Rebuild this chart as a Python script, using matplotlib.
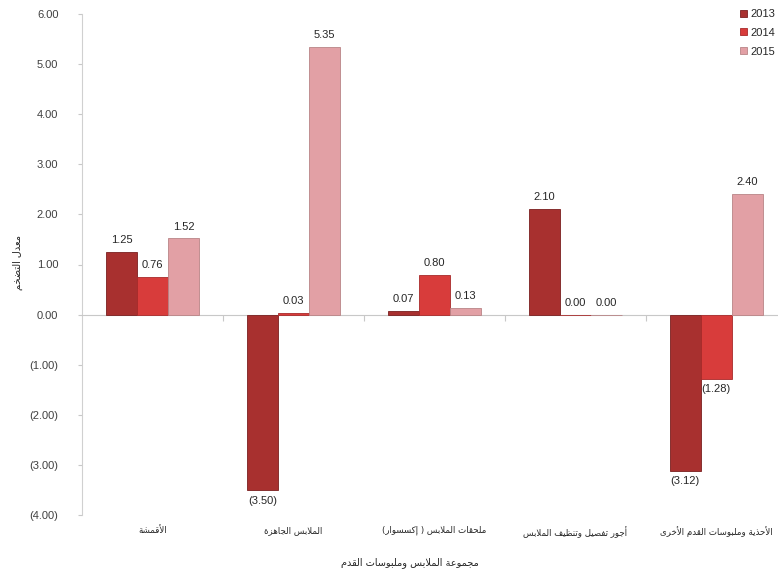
import numpy as np
import matplotlib
matplotlib.use('Agg')
from matplotlib import pyplot as plt
import matplotlib.transforms as mtransforms

plt.rcParams['font.family'] = ['Liberation Sans', 'DejaVu Sans']

# the data
categories = ['الأقمشة', 'الملابس الجاهزة', 'ملحقات الملابس ( إكسسوار)',
              'أجور تفصيل وتنظيف الملابس', 'الأحذية وملبوسات القدم الأخرى']
years = ['2013', '2014', '2015']
v2013 = [1.25, -3.50, 0.07, 2.10, -3.12]
v2014 = [0.76, 0.03, 0.80, 0.00, -1.28]
v2015 = [1.52, 5.35, 0.13, 0.00, 2.40]
y_ticks = [-4, -3, -2, -1, 0, 1, 2, 3, 4, 5, 6]
x_title = 'مجموعة الملابس وملبوسات القدم'
y_title = 'معدل التضخم'

# matplotlib has no arabic shaping, so do it by hand with presentation forms
FORMS = {
    'ء': (0xFE80, 1), 'آ': (0xFE81, 2), 'أ': (0xFE83, 2), 'ؤ': (0xFE85, 2),
    'إ': (0xFE87, 2), 'ئ': (0xFE89, 4), 'ا': (0xFE8D, 2), 'ب': (0xFE8F, 4),
    'ة': (0xFE93, 2), 'ت': (0xFE95, 4), 'ث': (0xFE99, 4), 'ج': (0xFE9D, 4),
    'ح': (0xFEA1, 4), 'خ': (0xFEA5, 4), 'د': (0xFEA9, 2), 'ذ': (0xFEAB, 2),
    'ر': (0xFEAD, 2), 'ز': (0xFEAF, 2), 'س': (0xFEB1, 4), 'ش': (0xFEB5, 4),
    'ص': (0xFEB9, 4), 'ض': (0xFEBD, 4), 'ط': (0xFEC1, 4), 'ظ': (0xFEC5, 4),
    'ع': (0xFEC9, 4), 'غ': (0xFECD, 4), 'ف': (0xFED1, 4), 'ق': (0xFED5, 4),
    'ك': (0xFED9, 4), 'ل': (0xFEDD, 4), 'م': (0xFEE1, 4), 'ن': (0xFEE5, 4),
    'ه': (0xFEE9, 4), 'و': (0xFEED, 2), 'ى': (0xFEEF, 2), 'ي': (0xFEF1, 4),
}
LAM_ALEF = {'آ': 0xFEF5, 'أ': 0xFEF7, 'إ': 0xFEF9, 'ا': 0xFEFB}


def shape(text):
    # group lam+alef into one unit first
    units = []
    i = 0
    while i < len(text):
        c = text[i]
        if c == 'ل' and i + 1 < len(text) and text[i + 1] in LAM_ALEF:
            units.append(('LA', text[i + 1]))
            i += 2
        else:
            units.append(('C', c))
            i += 1

    def joins_left(u):  # can connect to the following letter
        kind, c = u
        return kind == 'C' and c in FORMS and FORMS[c][1] == 4

    def is_letter(u):
        return u[0] == 'LA' or u[1] in FORMS

    out = []
    for k, u in enumerate(units):
        prev_j = k > 0 and joins_left(units[k - 1])
        kind, c = u
        if kind == 'LA':
            base = LAM_ALEF[c]
            out.append(chr(base + 1 if prev_j else base))
            continue
        if c not in FORMS:
            out.append(c)
            continue
        base, n = FORMS[c]
        next_j = n == 4 and k + 1 < len(units) and is_letter(units[k + 1])
        if n == 1:
            out.append(chr(base))
        elif n == 2:
            out.append(chr(base + 1 if prev_j else base))
        else:
            if prev_j and next_j:
                out.append(chr(base + 3))
            elif prev_j:
                out.append(chr(base + 1))
            elif next_j:
                out.append(chr(base + 2))
            else:
                out.append(chr(base))
    mirror = {'(': ')', ')': '('}
    return ''.join(mirror.get(ch, ch) for ch in reversed(out))


def fmt(v):
    return '(%.2f)' % abs(v) if v < 0 else '%.2f' % v


fig = plt.figure(figsize=(7.78, 5.78), dpi=100)
ax = fig.add_axes([82 / 778, 1 - 515 / 578, (778 - 82) / 778, (515 - 14) / 578])

x = np.arange(len(categories))
w = 0.22
colors = ['#a8302f', '#d83c3b', '#e2a0a5']
edges = ['#7a1f1f', '#a82a2a', '#b98486']
series = [v2013, v2014, v2015]
for j, vals in enumerate(series):
    xs = x + (j - 1) * w
    ax.bar(xs, vals, w, color=colors[j], edgecolor=edges[j], linewidth=0.6,
           label=years[j], zorder=3)
    for xi, v in zip(xs, vals):
        if v < 0:
            ax.annotate(fmt(v), (xi, v), xytext=(0, -4), textcoords='offset points',
                        ha='center', va='top', fontsize=8, color='#262626')
        else:
            ax.annotate(fmt(v), (xi, v), xytext=(0, 5), textcoords='offset points',
                        ha='center', va='bottom', fontsize=8, color='#262626')

ax.set_ylim(-4, 6)
ax.set_xlim(-0.5, 4.44)
ax.set_yticks(y_ticks)
ax.set_yticklabels([fmt(t) for t in y_ticks])
ax.tick_params(axis='y', length=3, pad=14, color='#c8c8c8', labelsize=8,
               labelcolor='#404040')

for s in ['top', 'right']:
    ax.spines[s].set_visible(False)
ax.spines['left'].set_color('#d0d0d0')
ax.spines['bottom'].set_position(('data', 0))
ax.spines['bottom'].set_color('#c8c8c8')
ax.set_xticks(x[:-1] + 0.5)
ax.set_xticklabels([])
ax.tick_params(axis='x', length=4, color='#c8c8c8', direction='out')

trans = mtransforms.blended_transform_factory(ax.transData, ax.transAxes)
for xi, c in zip(x, categories):
    ax.text(xi, -0.022, shape(c), transform=trans, ha='center', va='top',
            fontsize=6.2, family=['DejaVu Sans'], color='#262626')

fig.text(410 / 778, 1 - 563 / 578, shape(x_title), ha='center', va='center',
         fontsize=7, family=['DejaVu Sans'], color='#262626')
fig.text(18 / 778, 1 - 262 / 578, shape(y_title), ha='center', va='center',
         rotation=90, fontsize=7, family=['DejaVu Sans'], color='#262626')

ax.legend(loc='upper right', bbox_to_anchor=(1.01, 1.03), frameon=False, fontsize=8,
          handlelength=0.6, handleheight=0.6, handletextpad=0.3, labelspacing=0.8,
          labelcolor='#262626')

fig.savefig('out.png', dpi=100)
